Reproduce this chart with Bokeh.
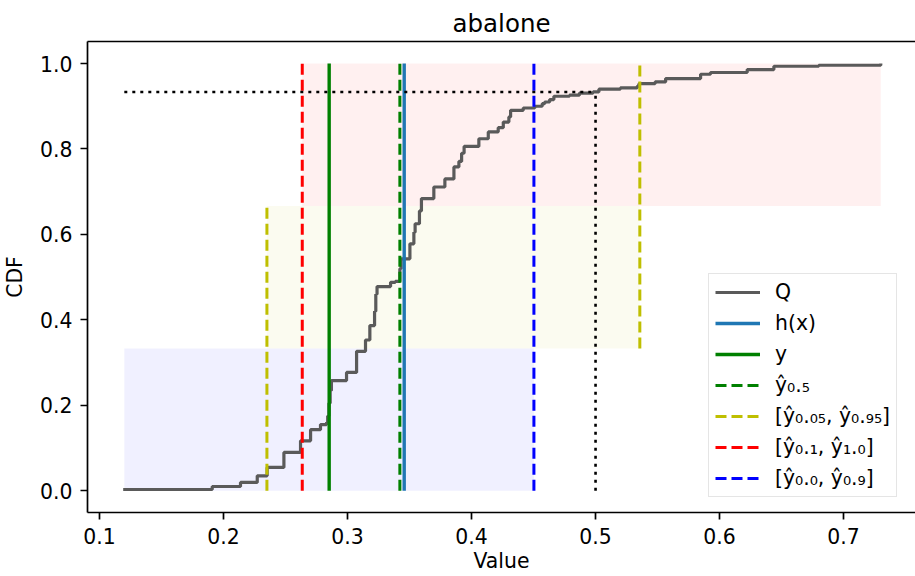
from bokeh.plotting import figure
from bokeh.models import Range1d, LinearAxis, FixedTicker, Legend, LegendItem
from bokeh.embed import file_html
from bokeh.resources import INLINE

# ---------------- data ----------------
title_text = "abalone"
x_label = "Value"
y_label = "CDF"
x_ticks = [0.1, 0.2, 0.3, 0.4, 0.5, 0.6, 0.7]
x_tick_labels = ["0.1", "0.2", "0.3", "0.4", "0.5", "0.6", "0.7"]
y_ticks = [0.0, 0.2, 0.4, 0.6, 0.8, 1.0]
y_tick_labels = ["0.0", "0.2", "0.4", "0.6", "0.8", "1.0"]

# empirical CDF of Q: x where a step occurs, CDF value after the step
cdf_x = [0.1191, 0.1909, 0.2137, 0.2272, 0.2352, 0.2487, 0.2621, 0.2702, 0.2782,
         0.2831, 0.2840, 0.2850, 0.2860, 0.2870, 0.2992, 0.3073, 0.3145, 0.3180,
         0.3218, 0.3228, 0.3238, 0.3347, 0.3385, 0.3422, 0.3432, 0.3503, 0.3535,
         0.3545, 0.3580, 0.3596, 0.3696, 0.3785, 0.3858, 0.3898, 0.3920, 0.3940,
         0.4059, 0.4135, 0.4215, 0.4256, 0.4301, 0.4315, 0.4417, 0.4510, 0.4570,
         0.4590, 0.4630, 0.4664, 0.4790, 0.4870, 0.4980, 0.5027, 0.5200, 0.5336,
         0.5350, 0.5480, 0.5565, 0.5847, 0.5927, 0.6223, 0.6438, 0.6800, 0.7300]
cdf_y = [0.003, 0.010, 0.0195, 0.035, 0.0547, 0.0898, 0.117, 0.143, 0.155,
         0.160, 0.175, 0.205, 0.235, 0.258, 0.277, 0.3265, 0.353, 0.3867,
         0.420, 0.460, 0.478, 0.488, 0.490, 0.520, 0.543, 0.578, 0.605,
         0.625, 0.655, 0.684, 0.711, 0.730, 0.758, 0.771, 0.790, 0.806,
         0.824, 0.840, 0.850, 0.863, 0.875, 0.8906, 0.896, 0.900, 0.906,
         0.910, 0.9156, 0.9234, 0.926, 0.931, 0.9335, 0.940, 0.943, 0.947,
         0.953, 0.957, 0.9648, 0.975, 0.979, 0.986, 0.9937, 0.996, 1.000]

# shaded bands (one per interval)
band_left = [0.1200, 0.2350, 0.2635]
band_right = [0.4503, 0.5357, 0.7300]
band_bottom = [0.0, 1 / 3, 2 / 3]
band_top = [1 / 3, 2 / 3, 1.0]
band_colors = ["#0000ff", "#bfbf00", "#ff0000"]

# vertical markers
h_x = 0.3457          # h(x)
y_true = 0.2852       # y
y_med = 0.3422        # y_hat 0.5
iv_yellow_x = [0.2350, 0.5357]
iv_yellow_y0 = [0.0, 1 / 3]
iv_yellow_y1 = [2 / 3, 1.0]
iv_red_x = [0.2635]
iv_blue_x = [0.4503]

# dotted guide (value -> cdf level)
guide_value = 0.5
guide_level = 0.9335
guide_start = 0.12

legend_labels = ["Q", "h(x)", "y", "ŷ₀.₅", "[ŷ₀.₀₅, ŷ₀.₉₅]", "[ŷ₀.₁, ŷ₁.₀]", "[ŷ₀.₀, ŷ₀.₉]"]

# ---------------- figure ----------------
FONT = "DejaVu Sans"
p = figure(width=915, height=576, output_backend="svg", toolbar_location=None,
           x_range=Range1d(0.09032, 0.758), y_range=Range1d(-0.0508, 1.0516),
           min_border_left=87, min_border_right=0, min_border_top=41, min_border_bottom=64,
           x_axis_location=None, y_axis_location=None)
p.outline_line_color = None
p.background_fill_color = "white"
p.border_fill_color = "white"
p.xgrid.visible = False
p.ygrid.visible = False

p.title.text = title_text
p.title.text_font = FONT
p.title.text_font_size = "24.5px"
p.title.text_font_style = "normal"
p.title.align = "center"
p.title.text_color = "black"
p.title.standoff = 7


def style_axis(ax, ticks, labels):
    ax.ticker = FixedTicker(ticks=ticks)
    ax.major_label_overrides = {t: s for t, s in zip(ticks, labels)}
    ax.axis_line_width = 1.7
    ax.axis_line_color = "black"
    ax.major_tick_line_width = 1.7
    ax.major_tick_line_color = "black"
    ax.major_tick_out = 7
    ax.major_tick_in = 0
    ax.minor_tick_line_color = None
    ax.major_label_text_font = FONT
    ax.major_label_text_font_size = "20.4px"
    ax.major_label_text_color = "black"
    ax.major_label_standoff = 8
    ax.axis_label_text_font = FONT
    ax.axis_label_text_font_size = "20.4px"
    ax.axis_label_text_font_style = "normal"
    ax.axis_label_text_color = "black"


xax = LinearAxis(axis_label=x_label)
style_axis(xax, x_ticks, x_tick_labels)
xax.axis_label_standoff = 2
p.add_layout(xax, "below")

yax = LinearAxis(axis_label=y_label)
style_axis(yax, y_ticks, y_tick_labels)
yax.axis_label_standoff = 10
p.add_layout(yax, "left")

top = LinearAxis()
top.ticker = FixedTicker(ticks=[])
top.axis_line_width = 1.7
top.axis_line_color = "black"
top.major_tick_out = 0
top.major_tick_in = 0
top.minor_tick_line_color = None
top.major_label_standoff = 0
top.major_label_text_font_size = "0px"
p.add_layout(top, "above")

# bands
p.quad(left=band_left, right=band_right, bottom=band_bottom, top=band_top,
       fill_color=band_colors, fill_alpha=0.06, line_color=None)

# CDF curve
r_q = p.step(cdf_x, cdf_y, mode="after", line_color="#5a5a5a", line_width=3.2)

ymax = y_ticks[-1]
ymin = y_ticks[0]

r_h = p.segment(x0=[h_x], x1=[h_x], y0=[ymin], y1=[ymax], line_color="#1f77b4", line_width=3.4)
r_y = p.segment(x0=[y_true], x1=[y_true], y0=[ymin], y1=[ymax], line_color="#008000", line_width=3.4)
r_med = p.segment(x0=[y_med], x1=[y_med], y0=[ymin], y1=[ymax], line_color="#008000",
                  line_width=3, line_dash="11 5")
r_yel = p.segment(x0=iv_yellow_x, x1=iv_yellow_x, y0=iv_yellow_y0, y1=iv_yellow_y1,
                  line_color="#bfbf00", line_width=3, line_dash="11 5")
r_red = p.segment(x0=iv_red_x, x1=iv_red_x, y0=[ymin] * len(iv_red_x), y1=[ymax] * len(iv_red_x),
                  line_color="#ff0000", line_width=3, line_dash="11 5")
r_blue = p.segment(x0=iv_blue_x, x1=iv_blue_x, y0=[ymin] * len(iv_blue_x), y1=[ymax] * len(iv_blue_x),
                   line_color="#0000ff", line_width=3, line_dash="11 5")

# dotted guides
p.line([guide_start, guide_value], [guide_level, guide_level], line_color="black",
       line_width=2.6, line_dash="3 5")
p.line([guide_value, guide_value], [ymin, guide_level], line_color="black",
       line_width=2.6, line_dash="3 5")

renderers = [r_q, r_h, r_y, r_med, r_yel, r_red, r_blue]
items = [LegendItem(label=lab, renderers=[r]) for lab, r in zip(legend_labels, renderers)]
legend = Legend(items=items, location=(621, 15))
legend.label_text_font = FONT
legend.label_text_font_size = "20.4px"
legend.label_text_color = "black"
legend.glyph_width = 45
legend.glyph_height = 24
legend.label_height = 24
legend.label_standoff = 15
legend.spacing = 7
legend.padding = 6
legend.margin = 0
legend.border_line_color = "#cccccc"
legend.border_line_width = 1.5
legend.background_fill_color = "white"
legend.background_fill_alpha = 0.8
p.add_layout(legend, "center")

open("out.html", "w").write(file_html(p, INLINE))
